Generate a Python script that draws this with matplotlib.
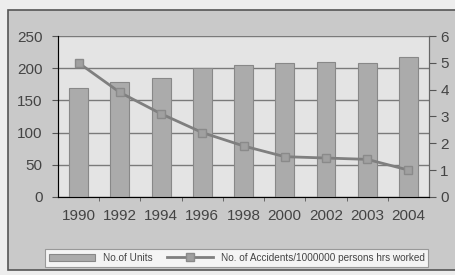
import matplotlib.pyplot as plt
from matplotlib.patches import Rectangle

years = ['1990', '1992', '1994', '1996', '1998', '2000', '2002', '2003', '2004']
units = [170, 178, 185, 201, 205, 208, 209, 208, 217]
accidents = [5.0, 3.9, 3.1, 2.4, 1.9, 1.5, 1.45, 1.4, 1.0]

plt.rcParams['font.family'] = ['Liberation Sans', 'DejaVu Sans']

fig = plt.figure(figsize=(4.56, 2.75), dpi=100, facecolor='#ededed')
# grey chart frame, behind everything
fig.patches.append(Rectangle((0.018, 0.018), 0.99, 0.945, transform=fig.transFigure,
                             facecolor='#c9c9c9', edgecolor='#555555', lw=1.2, zorder=-10))

ax = fig.add_axes([0.127, 0.284, 0.814, 0.585])
ax.set_facecolor('#e4e4e4')
x = list(range(len(years)))
bars = ax.bar(x, units, width=0.46, color='#ababab', edgecolor='#888888', lw=0.8,
              label='No.of Units', zorder=3)
ax.set_xlim(-0.5, len(years) - 0.5)
ax.set_ylim(0, 250)
ax.set_yticks([0, 50, 100, 150, 200, 250])
ax.grid(axis='y', color='#7a7a7a', lw=1.0, zorder=0)
ax.set_axisbelow(True)
ax.set_xticks(x)
ax.set_xticklabels(years)
# small tick marks between categories
ax.set_xticks([i + 0.5 for i in range(len(years) - 1)], minor=True)
ax.tick_params(axis='y', colors='#555555', labelcolor='#444444', labelsize=11, length=4, pad=7)
ax.tick_params(axis='x', which='major', labelcolor='#444444', labelsize=11, length=0, pad=9)
ax.tick_params(axis='x', which='minor', colors='#555555', length=3)
ax.spines['top'].set_visible(False)
for s in ['left', 'bottom', 'right']:
    ax.spines[s].set_color('#666666')

ax2 = ax.twinx()
line, = ax2.plot(x, accidents, color='#7f7f7f', lw=2.0, marker='s', markersize=6,
                 markerfacecolor='#a0a0a0', markeredgecolor='#8a8a8a',
                 label='No. of Accidents/1000000 persons hrs worked', zorder=4)
ax2.set_ylim(0, 6)
ax2.set_yticks(range(7))
ax2.tick_params(axis='y', colors='#555555', labelcolor='#444444', labelsize=11, length=5, pad=3)
ax2.spines['top'].set_visible(False)
ax2.spines['right'].set_color('#666666')

leg = fig.legend([bars, line], ['No.of Units', 'No. of Accidents/1000000 persons hrs worked'],
                 loc='center', bbox_to_anchor=(0.519, 0.063), ncol=2, fontsize=7.2,
                 frameon=True, fancybox=False, edgecolor='#888888', facecolor='white',
                 handlelength=4.6, columnspacing=1.4, borderpad=0.4)
leg.get_frame().set_linewidth(0.8)
for t in leg.get_texts():
    t.set_color('#444444')

fig.savefig('out.png', dpi=100)
